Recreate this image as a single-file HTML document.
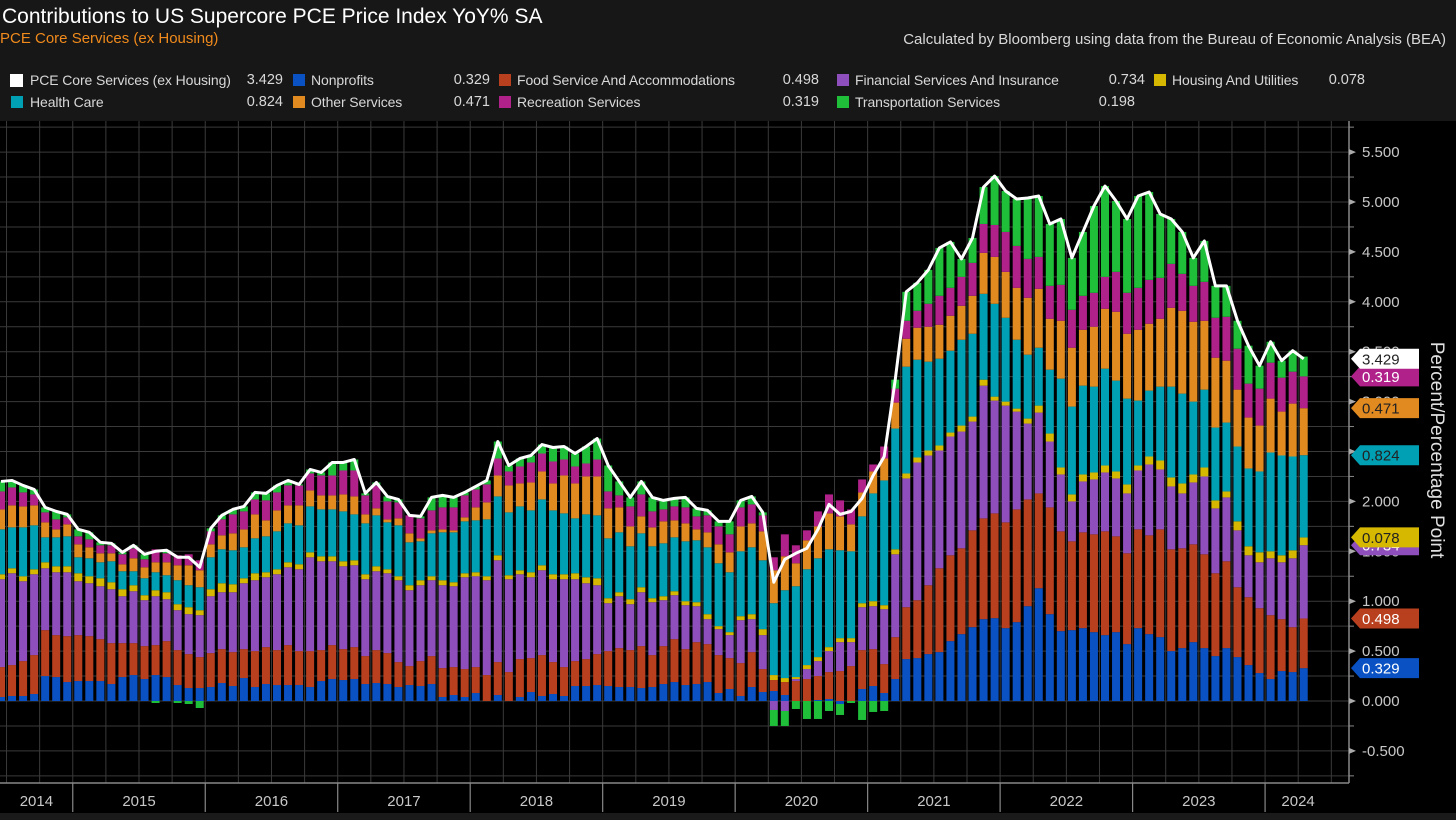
<!DOCTYPE html>
<html><head><meta charset="utf-8"><style>
html,body{margin:0;padding:0;background:#000;width:1456px;height:820px;overflow:hidden;font-family:"Liberation Sans",sans-serif}
#hdr{position:absolute;left:0;top:0;width:1456px;height:121px;background:#171717}
.t{position:absolute;white-space:nowrap}
.sw{position:absolute;width:12px;height:12px}
.lg{position:absolute;font-size:14px;color:#d8d8d8;white-space:nowrap;letter-spacing:-0.1px}
.lv{position:absolute;font-size:14.5px;color:#d8d8d8;text-align:right;width:60px}
svg{position:absolute;left:0;top:0}
</style></head><body>
<div id="hdr">
<div class="t" style="left:2px;top:5px;font-size:21px;color:#fff">Contributions to US Supercore PCE Price Index YoY% SA</div>
<div class="t" style="left:0;top:30px;font-size:15px;color:#f08a1c">PCE Core Services (ex Housing)</div>
<div class="t" style="right:10px;top:31px;font-size:15px;color:#d8d8d8">Calculated by Bloomberg using data from the Bureau of Economic Analysis (BEA)</div>

<div><div class="sw" style="left:10px;top:74px;background:#fff;width:13px;height:13px"></div><div class="lg" style="left:30px;top:72px">PCE Core Services (ex Housing)</div><div class="lv" style="left:223px;top:72px">3.429</div></div>
<div><div class="sw" style="left:11px;top:96px;background:#00a0b4"></div><div class="lg" style="left:30px;top:94px">Health Care</div><div class="lv" style="left:223px;top:94px">0.824</div></div>
<div><div class="sw" style="left:293px;top:74px;background:#0a52c4"></div><div class="lg" style="left:311px;top:72px">Nonprofits</div><div class="lv" style="left:430px;top:72px">0.329</div></div>
<div><div class="sw" style="left:293px;top:96px;background:#e08a20"></div><div class="lg" style="left:311px;top:94px">Other Services</div><div class="lv" style="left:430px;top:94px">0.471</div></div>
<div><div class="sw" style="left:499px;top:74px;background:#b8401e"></div><div class="lg" style="left:517px;top:72px">Food Service And Accommodations</div><div class="lv" style="left:759px;top:72px">0.498</div></div>
<div><div class="sw" style="left:499px;top:96px;background:#b0228a"></div><div class="lg" style="left:517px;top:94px">Recreation Services</div><div class="lv" style="left:759px;top:94px">0.319</div></div>
<div><div class="sw" style="left:837px;top:74px;background:#8e4fbd"></div><div class="lg" style="left:855px;top:72px">Financial Services And Insurance</div><div class="lv" style="left:1085px;top:72px">0.734</div></div>
<div><div class="sw" style="left:837px;top:96px;background:#1fbf3a"></div><div class="lg" style="left:855px;top:94px">Transportation Services</div><div class="lv" style="left:1075px;top:94px">0.198</div></div>
<div><div class="sw" style="left:1154px;top:74px;background:#d6b800"></div><div class="lg" style="left:1172px;top:72px">Housing And Utilities</div><div class="lv" style="left:1305px;top:72px">0.078</div></div>
</div>
<svg id="chart" width="1456" height="820"></svg>
<div class="t" style="left:1436px;top:450px;font-size:19px;color:#e0e0e0;transform:translate(-50%,-50%) rotate(90deg)">Percent/Percentage Point</div>
<script>
const nonprofits=[.04,.05,.05,.07,.25,.24,.19,.20,.20,.20,.17,.24,.26,.22,.26,.24,.16,.13,.13,.14,.18,.15,.23,.14,.17,.16,.16,.16,.14,.20,.22,.21,.22,.17,.18,.17,.14,.16,.15,.17,.04,.06,
.04,.08,.00,.06,.00,.04,.09,.05,.07,.05,.15,.15,.16,.15,.14,.14,.13,.14,.17,.19,.16,.17,.19,.08,.12,.05,.14,.09,.10,.06,.00,.00,.01,.02,-.03,.00,.12,.15,.08,
.22,.42,.43,.47,.49,.60,.67,.74,.82,.83,.73,.79,.95,1.13,.87,.70,.71,.73,.69,.66,.69,.57,.73,.67,.64,.50,.53,.59,.53,.45,.53,.44,.36,.28,.22,.30,.29,.329];
const foodService=[.30,.31,.35,.39,.46,.42,.46,.46,.45,.42,.41,.34,.32,.33,.30,.36,.35,.34,.31,.34,.34,.34,.29,.36,.37,.35,.40,.34,.36,.31,.34,.31,.32,.28,.33,.31,.25,.19,.25,.28,.29,.28,
.28,.26,.26,.33,.29,.38,.34,.41,.32,.29,.25,.27,.31,.35,.39,.37,.42,.32,.38,.43,.36,.42,.38,.38,.31,.33,.35,.23,.11,.13,.20,.22,.24,.27,.30,.35,.39,.37,.29,
.42,.52,.58,.69,.84,.86,.86,.97,1.01,1.05,1.06,1.13,1.07,.95,1.07,1.00,.89,.96,.98,1.04,.96,.91,.99,.99,1.08,1.02,1.00,.98,.94,.83,.87,.70,.68,.65,.64,.52,.45,.498];
const financial=[.88,.92,.80,.81,.62,.63,.64,.54,.53,.53,.54,.47,.52,.46,.49,.42,.40,.40,.42,.57,.57,.60,.66,.71,.70,.76,.78,.82,.94,.89,.84,.83,.82,.77,.79,.80,.82,.76,.76,.76,.83,.81,
.92,.91,.95,1.02,.93,.85,.81,.85,.83,.88,.82,.76,.69,.48,.52,.46,.54,.53,.46,.44,.44,.36,.25,.26,.23,.43,.33,.34,-.09,-.10,.02,.10,.15,.21,.29,.24,.43,.43,.55,
.83,1.29,1.38,1.30,1.18,1.19,1.17,1.09,1.33,1.13,1.17,.98,.76,.81,.66,.57,.40,.51,.55,.59,.58,.60,.59,.71,.60,.63,.55,.62,.78,.65,.64,.57,.42,.46,.57,.57,.69,.734];
const housing=[.05,.05,.05,.05,.06,.06,.06,.08,.07,.08,.07,.07,.06,.05,.06,.07,.06,.07,.05,.07,.09,.08,.05,.07,.05,.05,.05,.05,.05,.05,.05,.05,.05,.05,.05,.04,.04,.05,.05,.04,.05,.04,
.04,.04,.04,.05,.04,.04,.05,.05,.05,.05,.06,.06,.07,.05,.04,.05,.05,.04,.04,.04,.04,.04,.05,.03,.03,.04,.05,.06,.05,.04,.02,.04,.04,.04,.04,.04,.04,.05,.04,
.05,.05,.05,.05,.05,.04,.06,.05,.06,.04,.04,.03,.05,.07,.08,.07,.07,.07,.07,.07,.07,.09,.05,.08,.09,.09,.10,.08,.09,.08,.06,.09,.09,.10,.07,.07,.08,.078];
const healthCare=[.45,.41,.49,.44,.25,.29,.30,.16,.18,.16,.21,.18,.14,.17,.18,.17,.24,.22,.23,.32,.34,.34,.31,.35,.36,.38,.39,.39,.46,.47,.47,.50,.46,.51,.51,.47,.51,.43,.39,.43,.48,.50,
.52,.52,.57,.59,.63,.64,.62,.66,.64,.61,.55,.63,.63,.60,.60,.53,.54,.52,.53,.54,.60,.62,.67,.63,.60,.65,.67,.69,.72,.88,.91,.96,.99,.98,.88,.87,.87,1.08,1.25,
1.21,1.07,.98,.89,.87,.82,.86,.83,.86,.93,.84,.69,.64,.58,.64,.89,.88,.89,.86,.97,.91,.86,.65,.66,.74,.91,.90,.73,.78,.73,.69,.75,.78,.81,.99,1.00,.94,.824];
const otherServices=[.20,.22,.21,.20,.15,.08,.12,.13,.11,.09,.08,.07,.13,.11,.10,.13,.15,.20,.17,.13,.14,.17,.18,.24,.16,.21,.18,.20,.16,.14,.14,.17,.18,.09,.07,.03,.07,.09,.03,.03,.03,.02,
.04,.13,.17,.21,.27,.23,.28,.28,.27,.38,.35,.38,.39,.30,.25,.20,.17,.19,.22,.17,.18,.11,.15,.19,.20,.25,.24,.29,.33,.34,.23,.29,.32,.36,.34,.27,.24,.22,.22,
.26,.28,.32,.35,.34,.35,.34,.38,.41,.47,.46,.52,.57,.59,.51,.58,.59,.56,.60,.60,.69,.65,.71,.67,.68,.79,.83,.80,.69,.70,.62,.57,.51,.46,.54,.44,.53,.471];
const recreation=[.18,.18,.14,.11,.10,.10,.07,.08,.08,.08,.08,.10,.10,.08,.13,.09,.10,.11,.10,.13,.16,.19,.18,.15,.20,.18,.20,.20,.17,.20,.20,.24,.26,.19,.23,.18,.16,.18,.20,.20,.22,.23,
.22,.18,.18,.17,.14,.17,.20,.18,.22,.16,.17,.13,.17,.17,.12,.20,.22,.16,.12,.14,.16,.13,.17,.18,.18,.19,.19,.16,.13,.22,.18,.10,.15,.19,.16,.15,.13,.07,.12,
.14,.18,.17,.23,.29,.28,.29,.33,.29,.32,.40,.42,.39,.32,.33,.36,.38,.34,.34,.32,.40,.41,.42,.44,.41,.44,.37,.36,.39,.40,.44,.41,.34,.37,.36,.34,.32,.319];
const transportation=[.10,.07,.07,.05,.05,.08,.03,.07,.07,.03,.02,.02,.03,.05,-.02,.03,-.02,-.03,-.07,.03,.04,.05,.05,.07,.07,.07,.05,.01,.04,.03,.13,.08,.11,.02,.03,.05,.03,.00,.02,.13,.12,.10,
.03,.03,.04,.17,.06,.08,.07,.09,.14,.13,.13,.17,.21,.26,.14,.09,.13,.14,.09,.08,.10,.08,.05,.05,.13,.07,.08,.03,-.16,-.15,-.08,-.18,-.18,-.10,-.11,-.02,-.19,-.11,-.10,
.09,.29,.28,.34,.48,.46,.18,.25,.37,.49,.41,.47,.61,.61,.62,.66,.52,.64,.87,.91,.71,.74,.92,.88,.64,.45,.42,.28,.41,.32,.31,.28,.38,.23,.21,.17,.21,.198];
const latestTotal=[3.429];
const yearLabels=['2014','2015','2016','2017','2018','2019','2020','2021','2022','2023','2024'];
const yTicks=[-0.5,0,0.5,1,1.5,2,2.5,3,3.5,4,4.5,5,5.5];
const firstMonthIndex=5; // June 2014

const series=[
 {name:'nonprofits',v:nonprofits,c:'#0a52c4',tc:'#fff'},
 {name:'food-service',v:foodService,c:'#b8401e',tc:'#fff'},
 {name:'financial',v:financial,c:'#8e4fbd',tc:'#fff'},
 {name:'housing',v:housing,c:'#d6b800',tc:'#222'},
 {name:'health-care',v:healthCare,c:'#00a0b4',tc:'#222'},
 {name:'other-services',v:otherServices,c:'#e08a20',tc:'#222'},
 {name:'recreation',v:recreation,c:'#b0228a',tc:'#fff'},
 {name:'transportation',v:transportation,c:'#1fbf3a',tc:'#222'}];
const N=nonprofits.length;
const PL=0,PR=1349,PT=121,PB=783;
const xS=i=>1+11.04*i;
const yS=v=>701-v*99.8;
const NS='http://www.w3.org/2000/svg';
const svg=document.getElementById('chart');
function mk(t,a,p){const e=document.createElementNS(NS,t);for(const k in a)e.setAttribute(k,a[k]);(p||svg).appendChild(e);return e;}
const defs=mk('defs',{});const cp=mk('clipPath',{id:'pc'},defs);mk('rect',{x:PL,y:PT,width:PR-PL,height:PB-PT},cp);
const grid=mk('g',{'clip-path':'url(#pc)'});


for(let v=-0.75;v<=5.75;v+=0.25){mk('line',{x1:PL,x2:PR,y1:yS(v),y2:yS(v),stroke:'#3a3a3a','stroke-width':1},grid);}
for(let i=0;i<=N+3;i++){const m=firstMonthIndex+i;if(m%3===0){const x=xS(i)-5.52;mk('line',{x1:x,x2:x,y1:PT,y2:PB,stroke:'#3a3a3a','stroke-width':1},grid);}}
const bars=mk('g',{'clip-path':'url(#pc)'});


for(let i=0;i<N;i++){let pos=0,neg=0;
 series.forEach(s=>{const v=s.v[i];let y0,y1;if(v>=0){y0=pos;y1=pos+v;pos=y1;}else{y0=neg;y1=neg+v;neg=y1;}
  const r=mk('rect',{x:xS(i)-4,width:8,y:Math.min(yS(y0),yS(y1)),height:Math.abs(yS(y0)-yS(y1)),fill:s.c},bars);
  
  
 });}
const totals=[];for(let i=0;i<N;i++){let t=0;series.forEach(s=>t+=s.v[i]);totals.push(t);}
totals[N-1]=latestTotal[0];
const ln=mk('polyline',{points:totals.map((t,i)=>xS(i)+','+yS(t)).join(' '),fill:'none',stroke:'#fff','stroke-width':3,'stroke-linejoin':'round','clip-path':'url(#pc)'});


const ax=mk('g',{});


mk('line',{x1:PR,x2:PR,y1:PT,y2:PB,stroke:'#888','stroke-width':1.5},ax);
mk('line',{x1:PL,x2:PR,y1:PB,y2:PB,stroke:'#888','stroke-width':1.5},ax);
for(let v=-0.75;v<=5.75;v+=0.25){mk('line',{x1:PR,x2:PR+5,y1:yS(v),y2:yS(v),stroke:'#888'},ax);}
yTicks.forEach(v=>{const y=yS(v);mk('polygon',{points:`${PR},${y-3} ${PR+7},${y} ${PR},${y+3}`,fill:'#aaa'},ax);
 const t=mk('text',{x:PR+13,y:y+5,fill:'#c8c8c8','font-size':15,'font-family':'Liberation Sans, sans-serif'},ax);t.textContent=v.toFixed(3);
 
 });
for(let k=0;k<yearLabels.length;k++){const iStart=12*k-firstMonthIndex;const xb=xS(iStart)-5.52;
 if(xb>0)mk('line',{x1:xb,x2:xb,y1:PB,y2:812,stroke:'#888','stroke-width':1.2},ax);
 let xc=xS(iStart+5.5);if(k===0)xc=(0+xS(12-firstMonthIndex)-5.52)/2;if(k===yearLabels.length-1)xc=xb+33;
 const t=mk('text',{x:xc,y:806,fill:'#c8c8c8','font-size':15,'text-anchor':'middle','font-family':'Liberation Sans, sans-serif'},ax);t.textContent=yearLabels[k];
 
 }
mk('rect',{x:0,y:813,width:1456,height:7,fill:'#1a1a1a'},ax);
const tags=mk('g',{});


function tag(v,yv,fill,tc){const y=yS(yv),x0=PR+2;
 mk('polygon',{points:`${x0},${y} ${x0+9},${y-10} ${x0+68},${y-10} ${x0+68},${y+10} ${x0+9},${y+10}`,fill:fill},tags);
 const t=mk('text',{x:x0+11,y:y+5.5,fill:tc,'font-size':15,'font-family':'Liberation Sans, sans-serif'},tags);t.textContent=v.toFixed(3);
 
 }
let cum=0;const L=N-1;const tagList=[];
series.forEach((s,k)=>{cum+=s.v[L];if(k<7)tagList.push([s.v[L],cum,s.c,s.tc]);});
[0,1,2,4,3,5,6].forEach(k=>{const a=tagList[k];tag(a[0],a[1],a[2],a[3]);});
tag(totals[L],totals[L],'#fff','#222');
</script>
</body></html>
